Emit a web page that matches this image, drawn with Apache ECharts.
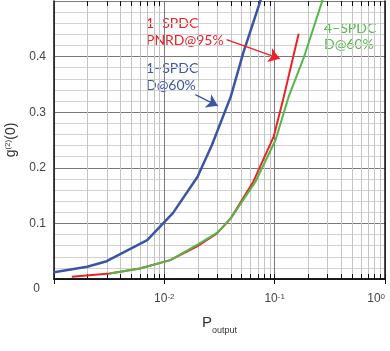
<!DOCTYPE html>
<html lang="en">
<head>
    <meta charset="UTF-8">
    <title>g2 vs P output</title>
    <script src="https://cdn.jsdelivr.net/npm/echarts@6/dist/echarts.min.js"></script>
    <style>
        html, body { margin: 0; padding: 0; background: #fff; }
    </style>
</head>
<body>
<div id="main" style="width: 390px;height:351px;"></div>
<script type="text/javascript">
    // values
    var blueP = [0.001, 0.002, 0.003, 0.007, 0.012, 0.02, 0.027, 0.04, 0.052, 0.075];
    var blueG = [0.012, 0.022, 0.032, 0.070, 0.119, 0.184, 0.241, 0.328, 0.407, 0.503];

    var redP = [0.00145, 0.0032, 0.006, 0.0113, 0.02, 0.03, 0.04, 0.064, 0.098, 0.121, 0.165];
    var redG = [0.004, 0.010, 0.019, 0.034, 0.059, 0.082, 0.109, 0.175, 0.256, 0.328, 0.441];

    var greenP = [0.0032, 0.006, 0.0113, 0.02, 0.03, 0.04, 0.067, 0.102, 0.134, 0.1835, 0.273];
    var greenG = [0.010, 0.019, 0.034, 0.062, 0.083, 0.109, 0.175, 0.2505, 0.328, 0.398, 0.503];

    // minor log ticks (2..9 in each decade)
    var minorX = [];
    [0.001, 0.01, 0.1].forEach(function (d) {
        for (var k = 2; k <= 9; k++) minorX.push(+(d * k).toPrecision(3));
    });

    // annotation arrows: [from, to] in data units
    var blueArrow = [[0.0191, 0.3315], [0.0305, 0.3115]];
    var redArrow = [[0.0366, 0.4306], [0.1113, 0.3962]];

    var BLUE = '#3b55a6', RED = '#ec2227', GREEN = '#52b848';
    var NOTE_FONT = '14px Lato, "Noto Sans", sans-serif';

    function pairs(xs, ys) {
        return xs.map(function (x, i) { return [x, ys[i]]; });
    }

    var myChart = echarts.init(document.getElementById('main'));

    var option = {
        animation: false,
        grid: { left: 54, right: 5, top: 1, bottom: 72, outerBoundsMode: 'none', containLabel: false },
        xAxis: [{
            type: 'log',
            min: 0.001,
            max: 1,
            logBase: 10,
            name: '{p|P}{s|output}',
            nameLocation: 'middle',
            nameGap: 20,
            nameTextStyle: {
                color: '#333',
                fontFamily: 'Liberation Sans',
                rich: {
                    p: { fontSize: 15, lineHeight: 18, color: '#333', fontFamily: 'Liberation Sans' },
                    s: { fontSize: 9, lineHeight: 9, padding: [16, 0, 0, 0], color: '#333', fontFamily: 'Liberation Sans' }
                }
            },
            axisLine: { show: true, onZero: false, lineStyle: { color: '#111', width: 1.5 } },
            axisTick: { show: true, inside: true, length: 5, lineStyle: { color: '#111' } },
            splitLine: { show: true, lineStyle: { color: '#7a7a7a', width: 1 } },
            axisLabel: {
                margin: 12,
                color: '#444',
                alignMaxLabel: 'right',
                formatter: function (v) {
                    var e = Math.round(Math.log10(v));
                    if (e === -3) return '';
                    return '{b|10}{s|' + e + '}';
                },
                rich: {
                    b: { fontSize: 12, lineHeight: 16, color: '#444', fontFamily: 'Liberation Sans' },
                    s: { fontSize: 8, lineHeight: 8, verticalAlign: 'top', padding: [2, 0, 0, 0], color: '#444', fontFamily: 'Liberation Sans' }
                }
            }
        }, {
            type: 'log',
            min: 0.001,
            max: 1,
            logBase: 10,
            position: 'top',
            z: 5,
            axisLine: { show: true, lineStyle: { color: '#111', width: 1.5 } },
            axisTick: { show: true, inside: true, length: 5, lineStyle: { color: '#111' } },
            axisLabel: { show: false },
            splitLine: { show: false }
        }],
        yAxis: [{
            type: 'value',
            min: 0,
            max: 0.5,
            interval: 0.1,
            name: '{a|g}{s|(2)}{a|(0)}',
            nameLocation: 'middle',
            nameGap: 30,
            nameRotate: 90,
            nameTextStyle: {
                rich: {
                    a: { fontSize: 14, lineHeight: 16, color: '#333', fontFamily: 'Liberation Sans' },
                    s: { fontSize: 8, lineHeight: 8, verticalAlign: 'top', color: '#333', fontFamily: 'Liberation Sans' }
                }
            },
            axisLine: { show: true, lineStyle: { color: '#111', width: 1.5 } },
            axisTick: { show: false },
            minorTick: { show: false, splitNumber: 5 },
            splitLine: { show: true, lineStyle: { color: '#7a7a7a', width: 1 } },
            minorSplitLine: { show: true, lineStyle: { color: '#d2d2d2', width: 1 } },
            axisLabel: {
                margin: 8,
                fontSize: 12,
                color: '#444',
                fontFamily: 'Liberation Sans',
                formatter: function (v) {
                    if (v >= 0.5) return '';
                    if (v === 0) return '{z|0}';
                    return v.toFixed(1);
                },
                rich: {
                    z: { fontSize: 12, color: '#444', fontFamily: 'Liberation Sans', padding: [20, 6, 0, 0] }
                }
            }
        }, {
            type: 'value',
            min: 0,
            max: 0.5,
            interval: 0.1,
            position: 'right',
            z: 5,
            axisLine: { show: true, lineStyle: { color: '#111', width: 1.5 } },
            axisTick: { show: false },
            axisLabel: { show: false },
            splitLine: { show: false }
        }],
        graphic: [{
            type: 'text',
            left: 146,
            top: 15,
            style: {
                text: '1–SPDC\nPNRD@95%',
                font: NOTE_FONT,
                lineHeight: 17,
                fill: RED
            }
        }, {
            type: 'text',
            left: 146,
            top: 60,
            style: {
                text: '1–SPDC\nD@60%',
                font: NOTE_FONT,
                lineHeight: 17,
                fill: BLUE
            }
        }, {
            type: 'text',
            left: 324,
            top: 20,
            style: {
                text: '4–SPDC\nD@60%',
                font: NOTE_FONT,
                lineHeight: 16,
                fill: GREEN
            }
        }],
        series: [{
            // minor log grid lines and ticks
            type: 'custom',
            z: 1,
            silent: true,
            data: minorX.map(function (v) { return [v, 0]; }),
            encode: { x: 0, y: 1 },
            renderItem: function (params, api) {
                var v = api.value(0);
                var b = api.coord([v, 0]);
                var t = api.coord([v, 0.5]);
                var x = Math.round(b[0]) + 0.5;
                return {
                    type: 'group',
                    children: [{
                        type: 'line',
                        shape: { x1: x, y1: b[1] - 1, x2: x, y2: t[1] + 1 },
                        style: { stroke: '#c4c4c4', lineWidth: 1 }
                    }, {
                        type: 'line',
                        shape: { x1: x, y1: b[1], x2: x, y2: b[1] - 5 },
                        style: { stroke: '#111', lineWidth: 1 }
                    }, {
                        type: 'line',
                        shape: { x1: x, y1: t[1], x2: x, y2: t[1] + 5 },
                        style: { stroke: '#111', lineWidth: 1 }
                    }]
                };
            }
        }, {
            name: 'red',
            type: 'line',
            z: 2,
            symbol: 'none',
            data: pairs(redP, redG),
            lineStyle: { color: RED, width: 2 },
            markLine: {
                silent: true,
                symbol: ['none', 'arrow'],
                symbolSize: 11,
                label: { show: false },
                lineStyle: { color: RED, width: 1.3, type: 'solid' },
                data: [[{ coord: redArrow[0] }, { coord: redArrow[1] }]]
            }
        }, {
            name: 'green',
            type: 'line',
            z: 3,
            symbol: 'none',
            data: pairs(greenP, greenG),
            lineStyle: { color: GREEN, width: 2 }
        }, {
            name: 'blue',
            type: 'line',
            z: 3,
            symbol: 'none',
            data: pairs(blueP, blueG),
            lineStyle: { color: BLUE, width: 2.5 },
            markLine: {
                silent: true,
                symbol: ['none', 'arrow'],
                symbolSize: 11,
                label: { show: false },
                lineStyle: { color: BLUE, width: 1.3, type: 'solid' },
                data: [[{ coord: blueArrow[0] }, { coord: blueArrow[1] }]]
            }
        }]
    };

    myChart.setOption(option);
</script>
</body>
</html>
